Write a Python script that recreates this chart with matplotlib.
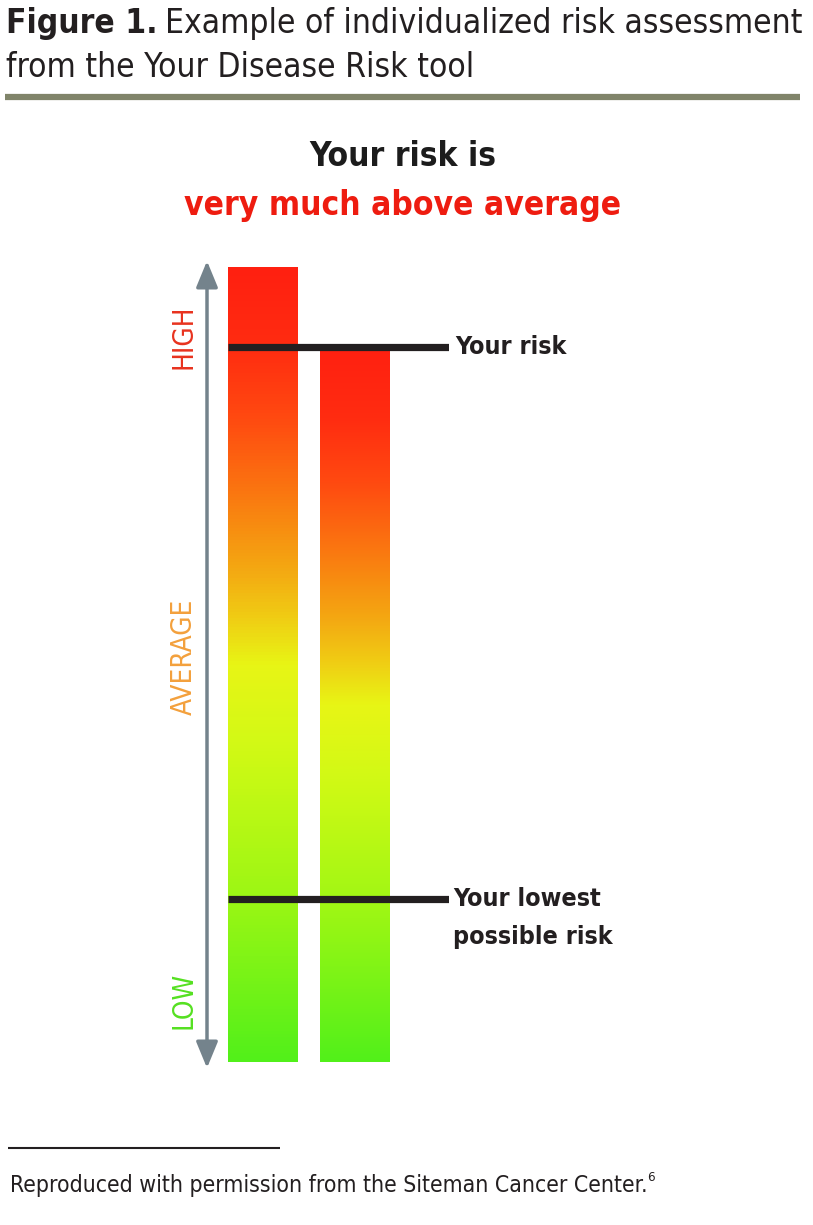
import numpy as np
import matplotlib
matplotlib.use('Agg')
import matplotlib.pyplot as plt
from matplotlib.colors import LinearSegmentedColormap

# risk scale 0 (low) .. 100 (high)
bar_names = ['population', 'you']
bar_low = [0, 0]
bar_high = [100, 90]
your_risk = 90
lowest_risk = 20.5
level_labels = ['HIGH', 'AVERAGE', 'LOW']
level_pos = [91.2, 51, 7.8]
level_colors = ['#e8321e', '#f3a03c', '#55e021']

grad_stops = [0.0, 0.2, 0.39, 0.5, 0.56, 0.62, 0.71, 0.81, 0.9, 1.0]
grad_colors = ['#52f01a', '#9af614', '#d0fa15', '#e8f515', '#f0cc14', '#f4a812',
               '#fa7a10', '#ff4a10', '#ff2c10', '#ff2010']
cmap = LinearSegmentedColormap.from_list('risk', list(zip(grad_stops, grad_colors)))

W, H = 813, 1225
fig = plt.figure(figsize=(W / 100, H / 100), dpi=100)

# pixel-coordinate overlay for captions and the arrow
ax0 = fig.add_axes([0, 0, 1, 1])
ax0.set_xlim(0, W)
ax0.set_ylim(H, 0)
ax0.axis('off')

fam = 'DejaVu Sans'
st = 'condensed'
t1 = ax0.text(6, 33, 'Figure 1.', fontsize=24, fontweight='bold', family=fam, stretch=st,
              va='baseline', ha='left', color='#231f20')
fig.canvas.draw()
bb = t1.get_window_extent()
ax0.text(6 + bb.width + 7, 33, 'Example of individualized risk assessment', fontsize=24,
         family=fam, stretch=st, va='baseline', ha='left', color='#231f20')
ax0.text(6, 77, 'from the Your Disease Risk tool', fontsize=24, family=fam, stretch=st,
         va='baseline', ha='left', color='#231f20')
ax0.plot([5, 800], [96.5, 96.5], color='#80846a', lw=4.5, solid_capstyle='butt')

ax0.text(403, 166, 'Your risk is', fontsize=24, fontweight='bold', family=fam, stretch=st,
         ha='center', va='baseline', color='#1c1c1c')
ax0.text(403, 215, 'very much above average', fontsize=24, fontweight='bold',
         family=fam, stretch=st, ha='center', va='baseline', color='#ee1c10')

ax0.annotate('', xy=(207, 261), xytext=(207, 1068),
             arrowprops=dict(arrowstyle='<|-|>,head_length=0.8,head_width=0.33',
                             mutation_scale=20, color='#74838c', lw=2.5,
                             shrinkA=0, shrinkB=0))

# bar axes: px 228..449 wide, px 1062 (risk 0) .. 267 (risk 100)
x0, x1 = 228, 449
y0, y1 = 1062, 267
ax = fig.add_axes([x0 / W, 1 - y0 / H, (x1 - x0) / W, (y0 - y1) / H])
bw = 0.75
ax.axis('off')

grad = np.linspace(0, 1, 256).reshape(-1, 1)
for i, name in enumerate(bar_names):
    ax.imshow(grad, cmap=cmap, aspect='auto', origin='lower',
              extent=(i - bw / 2, i + bw / 2, bar_low[i], bar_high[i]), zorder=1)
ax.set_xlim(-bw / 2, 2.027)
ax.set_ylim(0, 100)

for v in [your_risk, lowest_risk]:
    ax.axhline(v, color='#231f20', lw=5.2, solid_capstyle='butt', zorder=3)

ax.text(2.10, your_risk, 'Your risk', fontsize=18, fontweight='bold', family=fam, stretch=st,
        ha='left', va='center', color='#231f20', clip_on=False)
ax.text(2.07, lowest_risk, 'Your lowest', fontsize=18, fontweight='bold',
        family=fam, stretch=st, ha='left', va='center', color='#231f20', clip_on=False)
ax.text(2.07, lowest_risk - 4.8, 'possible risk', fontsize=18, fontweight='bold',
        family=fam, stretch=st, ha='left', va='center', color='#231f20', clip_on=False)

for lab, pos, c in zip(level_labels, level_pos, level_colors):
    ax.text(-0.86, pos, lab, fontsize=20, family=fam, stretch=st, rotation=90,
            ha='center', va='center', color=c, clip_on=False)

ax0.plot([8, 280], [1148, 1148], color='#231f20', lw=1.5, solid_capstyle='butt')
t2 = ax0.text(10, 1192, 'Reproduced with permission from the Siteman Cancer Center.', fontsize=16.5,
              family=fam, stretch=st, ha='left', va='baseline', color='#231f20')
fig.canvas.draw()
bb2 = t2.get_window_extent()
ax0.text(10 + bb2.width - 1, 1181, '6', fontsize=9.5, family=fam, stretch=st,
         ha='left', va='baseline', color='#231f20')

fig.savefig('out.png', dpi=100)
